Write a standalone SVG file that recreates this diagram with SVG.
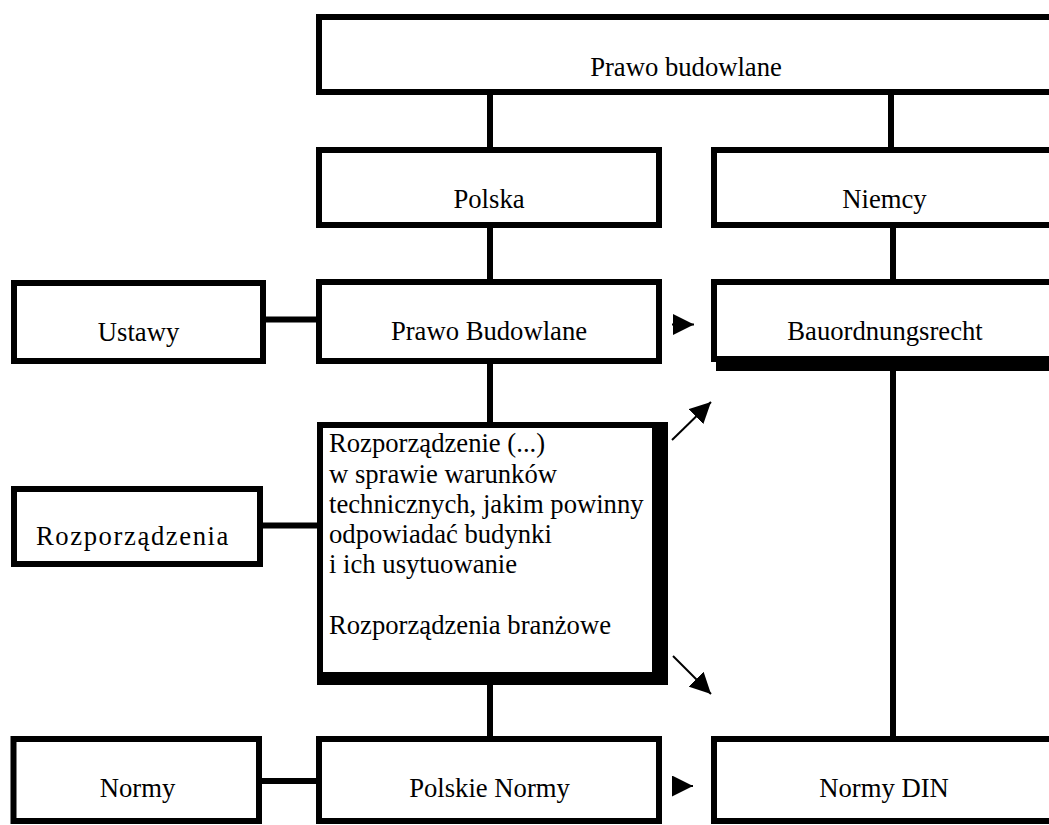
<svg xmlns="http://www.w3.org/2000/svg" width="1049" height="825" viewBox="0 0 1049 825">
<style>
.box{fill:#fff;stroke:#000;stroke-width:6}
.t{font-family:"Liberation Serif","Times New Roman",serif;font-size:26.67px;fill:#000}
.c{text-anchor:middle}
.con{stroke:#000;stroke-width:6;fill:none}
.arr{stroke:#000;stroke-width:2;fill:none;marker-end:url(#tri)}
</style>
<defs>
<marker id="tri" viewBox="0 0 21 21" refX="21" refY="10.5" markerWidth="21" markerHeight="21" markerUnits="userSpaceOnUse" orient="auto">
<path d="M0,0 L21,10.5 L0,21 z" fill="#000"/>
</marker>
</defs>
<rect width="1049" height="825" fill="#fff"/>
<g id="connectors">
<line class="con" x1="490" y1="92" x2="490" y2="150"/>
<line class="con" x1="891" y1="92" x2="891" y2="150"/>
<line class="con" x1="490" y1="225" x2="490" y2="282"/>
<line class="con" x1="893" y1="225" x2="893" y2="282"/>
<line class="con" x1="490" y1="361" x2="490" y2="422"/>
<line class="con" x1="893" y1="370" x2="893" y2="739"/>
<line class="con" x1="490" y1="685" x2="490" y2="739"/>
<line class="con" x1="263" y1="319.5" x2="319" y2="319.5"/>
<line class="con" x1="260" y1="525.5" x2="317" y2="525.5"/>
<line class="con" x1="259" y1="781" x2="319" y2="781"/>
<line class="arr" x1="672" y1="324.5" x2="694" y2="324.5"/>
<line class="arr" x1="672" y1="786" x2="693" y2="786"/>
<line class="arr" x1="672" y1="440" x2="711" y2="402"/>
<line class="arr" x1="673" y1="656" x2="711" y2="694"/>
</g>
<g id="prawo-budowlane-top">
<rect class="box" x="319" y="17" width="735" height="75"/>
<text class="t c" x="686" y="76">Prawo budowlane</text>
</g>
<g id="polska">
<rect class="box" x="319" y="150" width="340" height="75"/>
<text class="t c" x="489" y="208">Polska</text>
</g>
<g id="niemcy">
<rect class="box" x="714" y="150" width="340" height="75"/>
<text class="t c" x="884.5" y="208">Niemcy</text>
</g>
<g id="ustawy">
<rect class="box" x="14" y="283" width="249" height="78"/>
<text class="t c" x="138.5" y="341">Ustawy</text>
</g>
<g id="prawo-budowlane-pl">
<rect class="box" x="319" y="282" width="340" height="79"/>
<text class="t c" x="489" y="340">Prawo Budowlane</text>
</g>
<g id="bauordnungsrecht">
<rect class="box" x="714" y="282" width="340" height="77"/>
<rect x="716" y="358" width="340" height="13" fill="#000"/>
<text class="t c" x="885" y="340">Bauordnungsrecht</text>
</g>
<g id="rozporzadzenia">
<rect class="box" x="14" y="489" width="246" height="75"/>
<text class="t c" x="133" y="545" letter-spacing="1.6">Rozporządzenia</text>
</g>
<g id="rozporzadzenie-wt">
<rect x="317" y="422" width="351" height="263" fill="#000"/>
<rect x="323" y="428" width="329" height="244" fill="#fff"/>
<text class="t" x="329" y="452.3">Rozporządzenie (...)</text>
<text class="t" x="329" y="482.5">w sprawie warunków</text>
<text class="t" x="329" y="512.7">technicznych, jakim powinny</text>
<text class="t" x="329" y="542.9">odpowiadać budynki</text>
<text class="t" x="329" y="573.1">i ich usytuowanie</text>
<text class="t" x="329" y="633.5">Rozporządzenia branżowe</text>
</g>
<g id="normy">
<rect class="box" x="13.5" y="739" width="245.5" height="82"/>
<text class="t c" x="137.5" y="797">Normy</text>
</g>
<g id="polskie-normy">
<rect class="box" x="319" y="739" width="340" height="82"/>
<text class="t c" x="489.5" y="797">Polskie Normy</text>
</g>
<g id="normy-din">
<rect class="box" x="714" y="739" width="340" height="82"/>
<text class="t c" x="884" y="797">Normy DIN</text>
</g>
</svg>
